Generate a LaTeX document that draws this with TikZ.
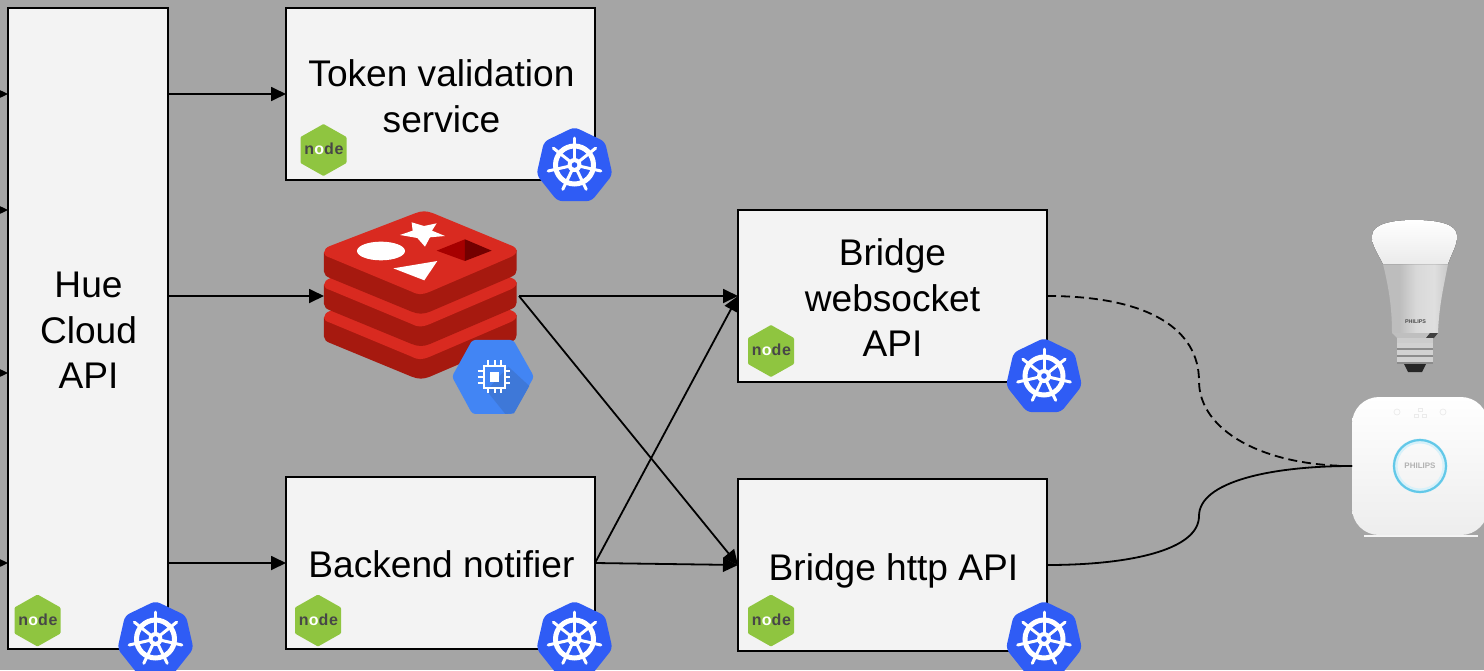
\documentclass[tikz,border=0pt]{standalone}
\usepackage{fontspec}
\setmainfont{Liberation Sans}
\newfontfamily\logofont[LetterSpace=5]{Liberation Sans Bold}
\usetikzlibrary{arrows.meta,calc}
\definecolor{bgc}{HTML}{A5A5A5}
\definecolor{boxc}{HTML}{F3F3F3}
\definecolor{kubec}{HTML}{2F5CF5}
\definecolor{nodec}{HTML}{8FC540}
\definecolor{redtop}{HTML}{D92A20}
\definecolor{reddark}{HTML}{A6190F}
\definecolor{gcec}{HTML}{4285F4}
\definecolor{gcedark}{HTML}{3E78D8}
\definecolor{ringc}{HTML}{62C8E8}
\pgfdeclarehorizontalshading{silver}{100bp}{color(0bp)=(gray!52);color(25bp)=(gray!52);color(38bp)=(gray!30);color(52bp)=(gray!25);color(66bp)=(gray!48);color(75bp)=(gray!42)}
\tikzset{
  x=1pt,y=-1pt,
  box/.style={draw=black,fill=boxc,line width=2pt,inner sep=0pt,outer sep=0pt,minimum width=309pt,minimum height=172pt},
  boxtext/.style={inner sep=0pt,outer sep=0pt,align=center,font=\fontsize{37.1}{45.5}\selectfont},
  link/.style={line width=1.8pt,draw=black,-{Triangle[length=15pt,width=14pt]},shorten >=0pt},
  wire/.style={line width=1.8pt,draw=black},
  kube/.pic={
    \fill[kubec,rounded corners=5pt] (90:-39)
      \foreach \a in {1,...,6}{ -- ({90+\a*360/7}:-39) } -- cycle;
    \draw[white,line width=5pt] (0,-1) circle[radius=19];
    \foreach \a in {0,...,6}{
      \draw[white,line width=3pt,line cap=round] ($(0,-1)+({-90+\a*360/7}:4)$) -- ($(0,-1)+({-90+\a*360/7}:27)$);
    }
    \fill[white] (0,-1) circle[radius=7];
    \fill[kubec] (0,-1) circle[radius=2.8];
  },
  nodejs/.pic={
    \fill[nodec,rounded corners=1pt] (0,-26) -- (23,-13) -- (23,13) -- (0,26) -- (-23,13) -- (-23,-13) -- cycle;
    \node[inner sep=0pt,text=black!72,font=\logofont\fontsize{16}{17}\selectfont] (-t) at (0.5,-1) {n\textcolor{white}{o}de};
  },
}
\begin{document}
\begin{tikzpicture}
\fill[bgc] (0,0) rectangle (1484,670);
\useasboundingbox (0,0) rectangle (1484,670);
\clip (0,0) rectangle (1484,670);

% boxes
\node[box,minimum width=160pt,minimum height=641pt] (hue) at (88,328.5) {};
\node[boxtext] (huet) at (88.5,330.5) {Hue\\Cloud\\API};
\node[box] (tok) at (440.5,94) {};
\node[boxtext] (tokt) at (441.5,96) {Token validation\\service};
\node[box] (back) at (440.5,563) {};
\node[boxtext] (backt) at (441.5,564) {Backend notifier};
\node[box] (ws) at (892.5,296) {};
\node[boxtext] (wst) at (892.5,298) {Bridge\\websocket\\API};
\node[box] (http) at (892.5,565) {};
\node[boxtext] (httpt) at (893.5,571) {Bridge http API};

% redis
\coordinate (redisL) at (324,296);
\coordinate (redisR) at (519,296);
\begin{scope}[shift={(280,100)},x=0.3333pt,y=-0.3333pt]
  \foreach \d in {195,97,0}{
    \begin{scope}[yshift={-\d*0.3333pt}]
    \fill[reddark] (132,458) -- (132,515) .. controls (132,525) and (140,530) .. (150,534) -- (395,635) .. controls (415,643) and (430,643) .. (450,635) -- (695,530) .. controls (705,525) and (710,520) .. (710,510) -- (710,450) -- cycle;
    \fill[redtop] (132,458) .. controls (132,448) and (140,442) .. (150,438) -- (405,340) .. controls (425,332) and (440,332) .. (460,340) -- (695,437) .. controls (705,441) and (710,447) .. (710,452) .. controls (710,460) and (700,468) .. (690,472) -- (450,575) .. controls (425,585) and (415,585) .. (395,575) -- (150,473) .. controls (140,470) and (132,466) .. (132,458) -- cycle;
    \end{scope}
  }
  \fill[white] (303,453) ellipse[x radius=72,y radius=28];
  \fill[white] (340,505) -- (472,483) -- (433,541) -- cycle;
  \fill[white] (395,367) -- (432,378) -- (470,370) -- (456,392) -- (495,408) -- (450,412) -- (435,440) -- (412,414) -- (360,405) -- (398,392) -- cycle;
  \fill[red!65!black] (470,452) -- (555,418) -- (555,483) -- cycle;
  \fill[red!45!black] (555,418) -- (635,452) -- (555,483) -- cycle;
  % compute engine badge
  \fill[gcec,rounded corners=3pt] (516,830) -- (577,720) -- (700,720) -- (762,830) -- (700,942) -- (577,942) -- cycle;
  \fill[gcedark] (620,872) -- (685,800) -- (748,858) -- (702,940) -- (676,942) -- cycle;
  \draw[white,line width=2.2pt] (612,798) rectangle (676,864);
  \fill[white] (630,816) rectangle (656,846);
  \foreach \p in {625,644,663}{
    \draw[white,line width=1.8pt] (\p,780) -- (\p,798) (\p,864) -- (\p,880);
  }
  \foreach \p in {813,831,850}{
    \draw[white,line width=1.8pt] (593,\p) -- (612,\p) (676,\p) -- (690,\p);
  }
\end{scope}

% badges
\pic (k1) at (574.5,166) {kube};
\pic (k2) at (155.5,640) {kube};
\pic (k3) at (574.5,640) {kube};
\pic (k4) at (1044,377) {kube};
\pic (k5) at (1044,640) {kube};
\pic (n1) at (323.5,150) {nodejs};
\pic (n2) at (37.5,620.5) {nodejs};
\pic (n3) at (318,620.5) {nodejs};
\pic (n4) at (771,351) {nodejs};
\pic (n5) at (771,620.5) {nodejs};

% bulb
\begin{scope}
  \path[shading=silver] (1383,264) -- (1448,264) .. controls (1444,285) and (1439,305) .. (1438,333) -- (1392,333) .. controls (1392,305) and (1388,285) .. (1383,264) -- cycle;
  \fill[top color=white,bottom color=white!92!black] (1383,264) .. controls (1377,252) and (1372,246) .. (1372,236) .. controls (1372,224) and (1392,220) .. (1414,220) .. controls (1438,220) and (1457,224) .. (1457,236) .. controls (1457,246) and (1452,252) .. (1448,264) -- cycle;
  \fill[black!25] (1392,333) -- (1438,333) -- (1434,338) -- (1397,338) -- cycle;
  \fill[black!75] (1430,333) -- (1438,333) -- (1434,338) -- (1426,338) -- cycle;
  \fill[black!20] (1397,338) rectangle (1433,343);
  \foreach \yy in {343,350,357}{
    \fill[black!18] (1397,\yy) rectangle (1433,\yy+4.5);
    \fill[black!45] (1397,\yy+4.5) rectangle (1433,\yy+7);
  }
  \fill[black!85] (1404,364) -- (1426,364) -- (1422,372) -- (1408,372) -- cycle;
  \node[inner sep=0pt,text=black!70,font=\bfseries\fontsize{5.4}{6}\selectfont] (bulbt) at (1415.5,322) {PHILIPS};
\end{scope}

% bridge
\fill[white!96!black] (1364,535) rectangle (1478,537);
\node[rounded corners=27pt,inner sep=0pt,outer sep=0pt,minimum width=136pt,minimum height=138pt,top color=white,bottom color=white!93!black] (bridge) at (1420,466) {};
\draw[ringc!25,line width=5pt] (1420,466) circle[radius=25];
\draw[ringc,line width=2.2pt] (1420,466) circle[radius=26];
\node[inner sep=0pt,text=black!30,font=\bfseries\fontsize{8}{10}\selectfont] (bridget) at (1420,466) {PHILIPS};
\draw[black!8,line width=.7pt] (1397,412) circle[radius=3] (1443,412) circle[radius=3];
\draw[black!8,line width=.7pt] (1418,408) rectangle (1422,411) (1414,414) rectangle (1418,417) (1422,414) rectangle (1426,417);

% connectors
\foreach \yy/\nm in {94/a,210/b,373/c,563/d}{
  \coordinate (in\nm) at (-20,\yy);
  \draw[link] (in\nm) -- (hue.west |- in\nm);
}
\draw[link] (hue.east |- tok.west) -- (tok.west);
\draw[link] (hue.east |- redisL) -- (redisL);
\draw[link] (hue.east |- back.west) -- (back.west);
\draw[link] (redisR) -- (ws.west);
\draw[link] (redisR) -- (http.west);
\draw[link] (back.east) -- (ws.west);
\draw[link] (back.east) -- (http.west);
\draw[wire,dash pattern=on 9pt off 5pt] (ws.east) .. controls (1150,296) and (1199,330) .. (1199,381) .. controls (1199,430) and (1262,466) .. (bridge.west);
\draw[wire] (http.east) .. controls (1130,565) and (1199,550) .. (1199,516) .. controls (1199,482) and (1270,466) .. (bridge.west);
\end{tikzpicture}
\end{document}
